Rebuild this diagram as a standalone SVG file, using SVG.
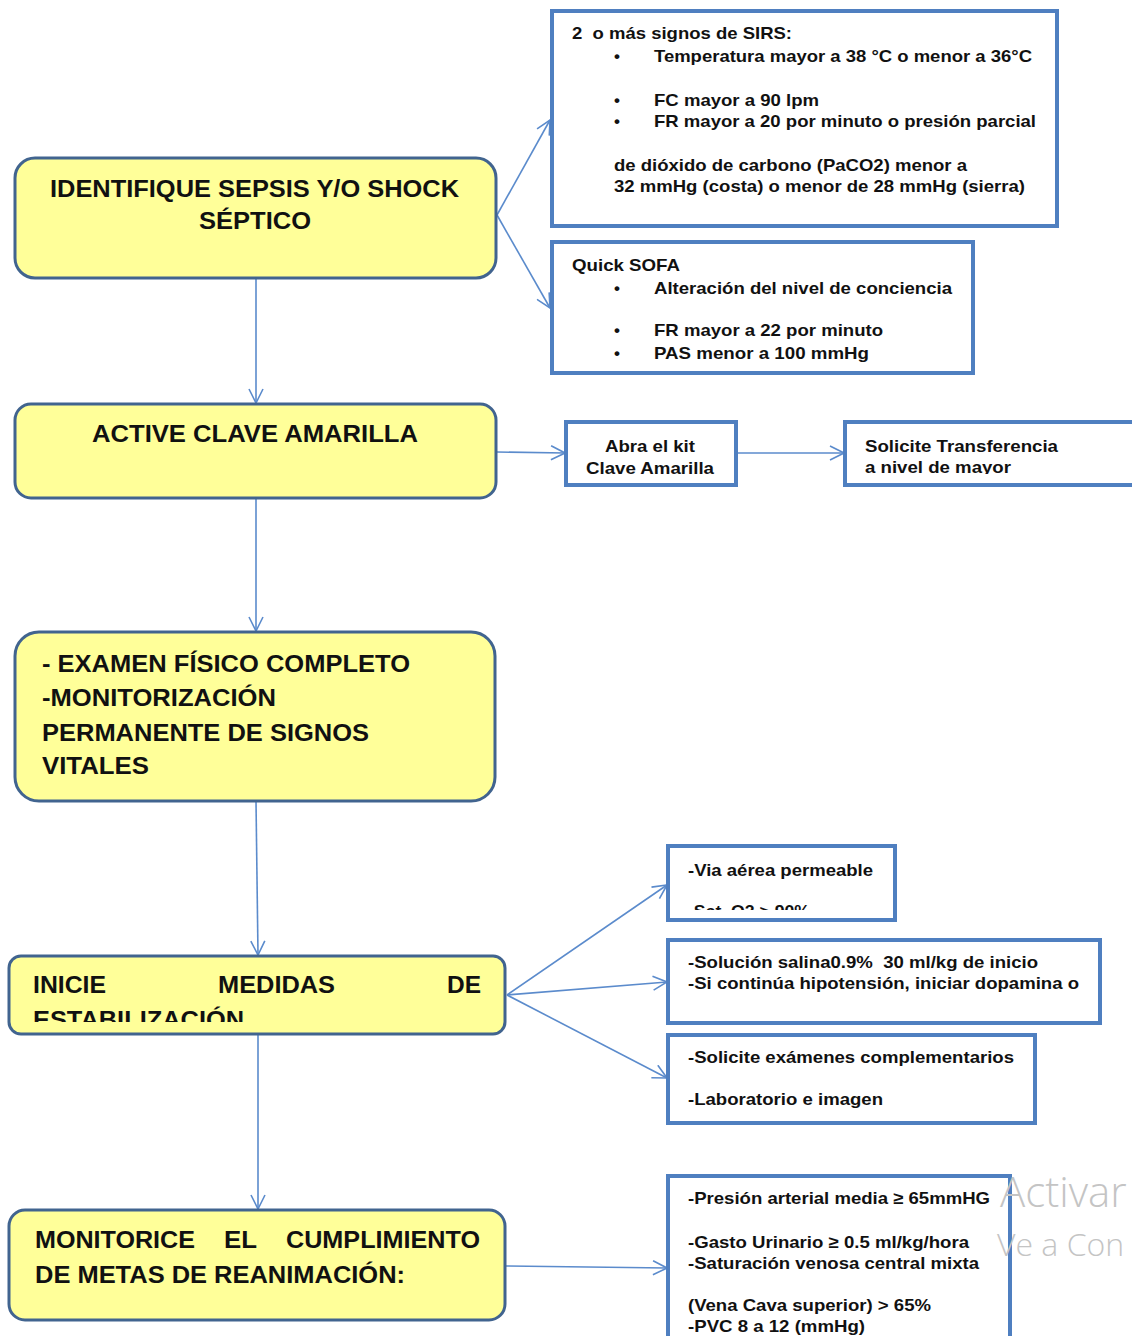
<svg xmlns="http://www.w3.org/2000/svg" width="1132" height="1336" viewBox="0 0 1132 1336">
<style>
.y{fill:#ffff99;stroke:#41648f;stroke-width:3}
.b{fill:#ffffff;stroke:#4f7fc0;stroke-width:4}
.t{font-family:"Liberation Sans",Arial,sans-serif;font-weight:bold;fill:#111111;white-space:pre}
.big{font-size:24px}
.sm{font-size:17px}
.c{fill:none;stroke:#5b8bcc;stroke-width:1.6}
.wm{font-family:"Open Sans","DejaVu Sans",sans-serif;fill:#c4c4c4;font-weight:300}
</style>
<defs>
<marker id="arr" viewBox="0 0 16 16" refX="15" refY="8" markerWidth="16" markerHeight="16" markerUnits="userSpaceOnUse" orient="auto">
<path d="M1,1 L15,8 L1,15" fill="none" stroke="#5b8bcc" stroke-width="1.6"/>
</marker>
<clipPath id="cAbra"><rect x="566" y="422" width="170" height="53"/></clipPath>
<clipPath id="cSol"><rect x="845" y="422" width="290" height="52"/></clipPath>
<clipPath id="cVia"><rect x="668" y="846" width="227" height="64"/></clipPath>
<clipPath id="cIni"><rect x="9" y="956" width="496" height="66"/></clipPath>
<clipPath id="cQs"><rect x="552" y="242" width="421" height="120"/></clipPath>
</defs>

<g id="connectors">
<line class="c" x1="497" y1="215" x2="550" y2="120" marker-end="url(#arr)"/>
<line class="c" x1="497" y1="215" x2="550" y2="308" marker-end="url(#arr)"/>
<line class="c" x1="256" y1="278" x2="256" y2="403" marker-end="url(#arr)"/>
<line class="c" x1="497" y1="452" x2="565" y2="453" marker-end="url(#arr)"/>
<line class="c" x1="736" y1="453" x2="844" y2="453" marker-end="url(#arr)"/>
<line class="c" x1="256" y1="498" x2="256" y2="631" marker-end="url(#arr)"/>
<line class="c" x1="256" y1="801" x2="258" y2="955" marker-end="url(#arr)"/>
<line class="c" x1="507" y1="995" x2="667" y2="885" marker-end="url(#arr)"/>
<line class="c" x1="507" y1="995" x2="667" y2="982" marker-end="url(#arr)"/>
<line class="c" x1="507" y1="995" x2="667" y2="1078" marker-end="url(#arr)"/>
<line class="c" x1="258" y1="1034" x2="258" y2="1209" marker-end="url(#arr)"/>
<line class="c" x1="505" y1="1266" x2="667" y2="1268" marker-end="url(#arr)"/>
</g>

<g id="identifique">
<rect class="y" x="15" y="158" width="481" height="120" rx="20"/>
<text class="t big" x="50" y="197" textLength="409" lengthAdjust="spacingAndGlyphs">IDENTIFIQUE SEPSIS Y/O SHOCK</text>
<text class="t big" x="199" y="229" textLength="112" lengthAdjust="spacingAndGlyphs">SÉPTICO</text>
</g>

<g id="sirs">
<rect class="b" x="552" y="11" width="505" height="215"/>
<text class="t sm" x="572" y="39" textLength="220" lengthAdjust="spacingAndGlyphs">2  o más signos de SIRS:</text>
<text class="t sm" x="614" y="62">•</text>
<text class="t sm" x="654" y="62" textLength="378" lengthAdjust="spacingAndGlyphs">Temperatura mayor a 38 °C o menor a 36°C</text>
<text class="t sm" x="614" y="106">•</text>
<text class="t sm" x="654" y="106" textLength="165" lengthAdjust="spacingAndGlyphs">FC mayor a 90 lpm</text>
<text class="t sm" x="614" y="127">•</text>
<text class="t sm" x="654" y="127" textLength="382" lengthAdjust="spacingAndGlyphs">FR mayor a 20 por minuto o presión parcial</text>
<text class="t sm" x="614" y="171" textLength="353" lengthAdjust="spacingAndGlyphs">de dióxido de carbono (PaCO2) menor a</text>
<text class="t sm" x="614" y="192" textLength="411" lengthAdjust="spacingAndGlyphs">32 mmHg (costa) o menor de 28 mmHg (sierra)</text>
</g>

<g id="qsofa">
<rect class="b" x="552" y="242" width="421" height="131"/>
<g clip-path="url(#cQs)">
<text class="t sm" x="572" y="271" textLength="108" lengthAdjust="spacingAndGlyphs">Quick SOFA</text>
<text class="t sm" x="614" y="294">•</text>
<text class="t sm" x="654" y="294" textLength="298" lengthAdjust="spacingAndGlyphs">Alteración del nivel de conciencia</text>
<text class="t sm" x="614" y="336">•</text>
<text class="t sm" x="654" y="336" textLength="229" lengthAdjust="spacingAndGlyphs">FR mayor a 22 por minuto</text>
<text class="t sm" x="614" y="359">•</text>
<text class="t sm" x="654" y="359" textLength="215" lengthAdjust="spacingAndGlyphs">PAS menor a 100 mmHg</text>
</g>
</g>

<g id="active">
<rect class="y" x="15" y="404" width="481" height="94" rx="16"/>
<text class="t big" x="92" y="442" textLength="326" lengthAdjust="spacingAndGlyphs">ACTIVE CLAVE AMARILLA</text>
</g>

<g id="abra">
<rect class="b" x="566" y="422" width="170" height="63"/>
<g clip-path="url(#cAbra)">
<text class="t sm" x="605" y="452" textLength="90" lengthAdjust="spacingAndGlyphs">Abra el kit</text>
<text class="t sm" x="586" y="474" textLength="128" lengthAdjust="spacingAndGlyphs">Clave Amarilla</text>
</g>
</g>

<g id="transferencia">
<rect class="b" x="845" y="422" width="291" height="63"/>
<g clip-path="url(#cSol)">
<text class="t sm" x="865" y="452" textLength="193" lengthAdjust="spacingAndGlyphs">Solicite Transferencia</text>
<text class="t sm" x="865" y="473" textLength="146" lengthAdjust="spacingAndGlyphs">a nivel de mayor</text>
</g>
</g>

<g id="examen">
<rect class="y" x="15" y="632" width="480" height="169" rx="24"/>
<text class="t big" x="42" y="672" textLength="368" lengthAdjust="spacingAndGlyphs">- EXAMEN FÍSICO COMPLETO</text>
<text class="t big" x="42" y="706" textLength="234" lengthAdjust="spacingAndGlyphs">-MONITORIZACIÓN</text>
<text class="t big" x="42" y="741" textLength="327" lengthAdjust="spacingAndGlyphs">PERMANENTE DE SIGNOS</text>
<text class="t big" x="42" y="774" textLength="107" lengthAdjust="spacingAndGlyphs">VITALES</text>
</g>

<g id="inicie">
<rect class="y" x="9" y="956" width="496" height="78" rx="12"/>
<g clip-path="url(#cIni)">
<text class="t big" x="33" y="993" textLength="73" lengthAdjust="spacingAndGlyphs">INICIE</text>
<text class="t big" x="218" y="993" textLength="117" lengthAdjust="spacingAndGlyphs">MEDIDAS</text>
<text class="t big" x="447" y="993" textLength="34" lengthAdjust="spacingAndGlyphs">DE</text>
<text class="t big" x="33" y="1028" textLength="211" lengthAdjust="spacingAndGlyphs">ESTABILIZACIÓN</text>
</g>
</g>

<g id="via">
<rect class="b" x="668" y="846" width="227" height="74"/>
<g clip-path="url(#cVia)">
<text class="t sm" x="688" y="876" textLength="185" lengthAdjust="spacingAndGlyphs">-Via aérea permeable</text>
<text class="t sm" x="688" y="917" textLength="122" lengthAdjust="spacingAndGlyphs">-Sat. O2 &gt; 90%</text>
</g>
</g>

<g id="solucion">
<rect class="b" x="668" y="940" width="432" height="83"/>
<text class="t sm" x="688" y="968" textLength="350" lengthAdjust="spacingAndGlyphs">-Solución salina0.9%  30 ml/kg de inicio</text>
<text class="t sm" x="688" y="989" textLength="391" lengthAdjust="spacingAndGlyphs">-Si continúa hipotensión, iniciar dopamina o</text>
</g>

<g id="examenes">
<rect class="b" x="668" y="1035" width="367" height="88"/>
<text class="t sm" x="688" y="1063" textLength="326" lengthAdjust="spacingAndGlyphs">-Solicite exámenes complementarios</text>
<text class="t sm" x="688" y="1105" textLength="195" lengthAdjust="spacingAndGlyphs">-Laboratorio e imagen</text>
</g>

<g id="monitorice">
<rect class="y" x="9" y="1210" width="496" height="110" rx="16"/>
<text class="t big" x="35" y="1248" textLength="160" lengthAdjust="spacingAndGlyphs">MONITORICE</text>
<text class="t big" x="224" y="1248" textLength="33" lengthAdjust="spacingAndGlyphs">EL</text>
<text class="t big" x="286" y="1248" textLength="194" lengthAdjust="spacingAndGlyphs">CUMPLIMIENTO</text>
<text class="t big" x="35" y="1283" textLength="370" lengthAdjust="spacingAndGlyphs">DE METAS DE REANIMACIÓN:</text>
</g>

<g id="metas">
<rect class="b" x="668" y="1176" width="342" height="170"/>
<text class="t sm" x="688" y="1204" textLength="302" lengthAdjust="spacingAndGlyphs">-Presión arterial media ≥ 65mmHG</text>
<text class="t sm" x="688" y="1248" textLength="281" lengthAdjust="spacingAndGlyphs">-Gasto Urinario ≥ 0.5 ml/kg/hora</text>
<text class="t sm" x="688" y="1269" textLength="291" lengthAdjust="spacingAndGlyphs">-Saturación venosa central mixta</text>
<text class="t sm" x="688" y="1311" textLength="243" lengthAdjust="spacingAndGlyphs">(Vena Cava superior) &gt; 65%</text>
<text class="t sm" x="688" y="1332" textLength="177" lengthAdjust="spacingAndGlyphs">-PVC 8 a 12 (mmHg)</text>
</g>

<text class="wm" x="1000" y="1207" font-size="42">Activar</text>
<text class="wm" x="997" y="1256" font-size="32">Ve a Con</text>
</svg>
